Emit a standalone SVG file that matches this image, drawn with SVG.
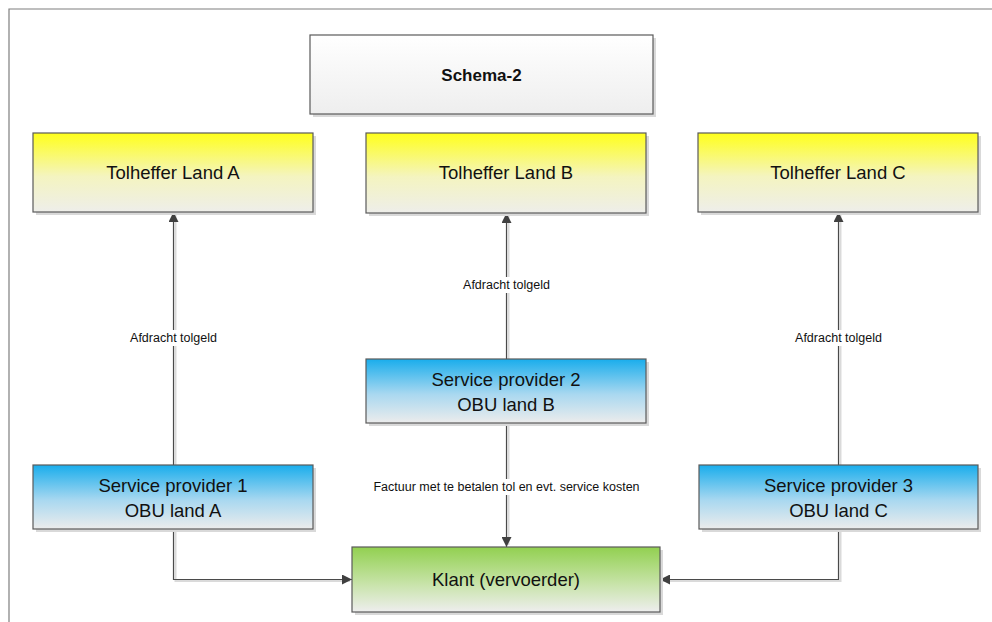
<svg xmlns="http://www.w3.org/2000/svg" width="992" height="622" viewBox="0 0 992 622">
<defs>
<linearGradient id="gY" x1="0" y1="0" x2="0" y2="1"><stop offset="0" stop-color="#FFFF1A"/><stop offset="0.55" stop-color="#F4F4C0"/><stop offset="1" stop-color="#EEEEEA"/></linearGradient>
<linearGradient id="gB" x1="0" y1="0" x2="0" y2="1"><stop offset="0" stop-color="#19ADEC"/><stop offset="0.55" stop-color="#A9D8F0"/><stop offset="1" stop-color="#ECECEC"/></linearGradient>
<linearGradient id="gG" x1="0" y1="0" x2="0" y2="1"><stop offset="0" stop-color="#92D050"/><stop offset="0.55" stop-color="#C6E3A6"/><stop offset="1" stop-color="#EEEEEE"/></linearGradient>
<linearGradient id="gW" x1="0" y1="0" x2="0" y2="1"><stop offset="0" stop-color="#FFFFFF"/><stop offset="1" stop-color="#EEEEEE"/></linearGradient>
<marker id="arr" viewBox="0 0 10 10" refX="10" refY="5" markerWidth="10" markerHeight="10" markerUnits="userSpaceOnUse" orient="auto"><path d="M0,0 L10,5 L0,10 Z" fill="#404040"/></marker>
<style>
.box{stroke:#5A5A5A;stroke-width:1.2}
.sh{fill:#D9D9D9}
.t{font-family:"Liberation Sans",Arial,sans-serif;font-size:18.5px;fill:#111;text-anchor:middle}
.tb{font-family:"Liberation Sans",Arial,sans-serif;font-size:17px;font-weight:bold;fill:#111;text-anchor:middle}
.lbl{font-family:"Liberation Sans",Arial,sans-serif;font-size:12.5px;fill:#111;text-anchor:middle}
.ln{fill:none;stroke:#4A4A4A;stroke-width:1.2}
.lsh{fill:none;stroke:#DADADA;stroke-width:2}
</style>
</defs>
<rect width="992" height="622" fill="#FFFFFF"/>
<path d="M9,622 L9,9 L992,9" fill="none" stroke="#7F7F7F" stroke-width="1.2"/>

<g id="connectors">
<path class="lsh" d="M175.5,465 V214"/>
<path class="lsh" d="M508.5,359 V215"/>
<path class="lsh" d="M840.5,465 V214"/>
<path class="lsh" d="M508.5,423 V545"/>
<path class="lsh" d="M175.5,529 V581 H350"/>
<path class="lsh" d="M840.5,529 V581 H662"/>
<path class="ln" d="M173.5,465 V212" marker-end="url(#arr)"/>
<path class="ln" d="M506.5,359 V213" marker-end="url(#arr)"/>
<path class="ln" d="M838.5,465 V212" marker-end="url(#arr)"/>
<path class="ln" d="M506.5,423 V547" marker-end="url(#arr)"/>
<path class="ln" d="M173.5,529 V579.5 H352" marker-end="url(#arr)"/>
<path class="ln" d="M838.5,529 V579.5 H660" marker-end="url(#arr)"/>
<rect x="124" y="330" width="99" height="16" fill="#FFFFFF"/>
<text class="lbl" x="173.5" y="342">Afdracht tolgeld</text>
<rect x="457" y="277" width="99" height="16" fill="#FFFFFF"/>
<text class="lbl" x="506.5" y="289">Afdracht tolgeld</text>
<rect x="789" y="330" width="99" height="16" fill="#FFFFFF"/>
<text class="lbl" x="838.5" y="342">Afdracht tolgeld</text>
<rect x="366" y="479" width="281" height="16" fill="#FFFFFF"/>
<text class="lbl" x="506.5" y="491">Factuur met te betalen tol en evt. service kosten</text>
</g>

<g id="schema">
<rect class="sh" x="313" y="38" width="343" height="79"/>
<rect class="box" x="310" y="35" width="343" height="79" fill="url(#gW)"/>
<text class="tb" x="481.5" y="81">Schema-2</text>
</g>

<g id="tolA">
<rect class="sh" x="36" y="136" width="280" height="79"/>
<rect class="box" x="33" y="133" width="280" height="79" fill="url(#gY)"/>
<text class="t" x="173" y="179">Tolheffer Land A</text>
</g>
<g id="tolB">
<rect class="sh" x="369" y="136" width="280" height="80"/>
<rect class="box" x="366" y="133" width="280" height="80" fill="url(#gY)"/>
<text class="t" x="506" y="179">Tolheffer Land B</text>
</g>
<g id="tolC">
<rect class="sh" x="701" y="136" width="280" height="79"/>
<rect class="box" x="698" y="133" width="280" height="79" fill="url(#gY)"/>
<text class="t" x="838" y="179">Tolheffer Land C</text>
</g>

<g id="sp1">
<rect class="sh" x="36" y="468" width="280" height="64"/>
<rect class="box" x="33" y="465" width="280" height="64" fill="url(#gB)"/>
<text class="t" x="173" y="492">Service provider 1</text>
<text class="t" x="173" y="517">OBU land A</text>
</g>
<g id="sp2">
<rect class="sh" x="369" y="362" width="280" height="64"/>
<rect class="box" x="366" y="359" width="280" height="64" fill="url(#gB)"/>
<text class="t" x="506" y="386">Service provider 2</text>
<text class="t" x="506" y="411">OBU land B</text>
</g>
<g id="sp3">
<rect class="sh" x="702" y="468" width="279" height="64"/>
<rect class="box" x="699" y="465" width="279" height="64" fill="url(#gB)"/>
<text class="t" x="838.5" y="492">Service provider 3</text>
<text class="t" x="838.5" y="517">OBU land C</text>
</g>

<g id="klant">
<rect class="sh" x="355" y="550" width="308" height="65"/>
<rect class="box" x="352" y="547" width="308" height="65" fill="url(#gG)"/>
<text class="t" x="506" y="586">Klant (vervoerder)</text>
</g>
</svg>
